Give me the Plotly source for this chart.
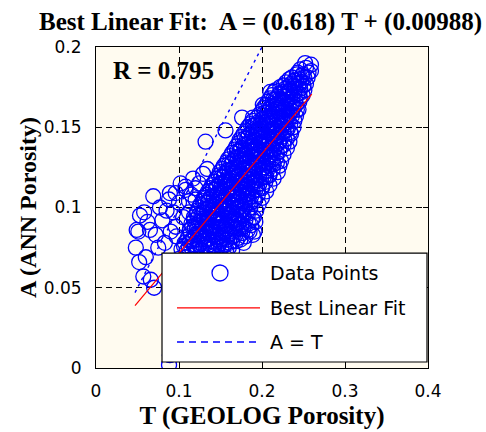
import plotly.graph_objects as go

# ---------------- data ----------------
# dense band of points (row by row, bottom-right cloud)
T_band = [
    0.252, 0.259,
    0.246, 0.253, 0.259,
    0.236, 0.242, 0.248, 0.255,
    0.229, 0.235, 0.241, 0.247, 0.253,
    0.216, 0.222, 0.228, 0.234, 0.240, 0.246, 0.251,
    0.212, 0.219, 0.225, 0.231, 0.237, 0.243, 0.249,
    0.207, 0.213, 0.219, 0.225, 0.231, 0.237, 0.245,
    0.202, 0.208, 0.214, 0.220, 0.226, 0.232, 0.238, 0.244,
    0.197, 0.203, 0.209, 0.215, 0.221, 0.227, 0.233, 0.241,
    0.189, 0.195, 0.201, 0.207, 0.213, 0.219, 0.225, 0.231, 0.239,
    0.183, 0.189, 0.195, 0.201, 0.207, 0.213, 0.219, 0.225, 0.231, 0.238,
    0.178, 0.184, 0.190, 0.196, 0.202, 0.208, 0.214, 0.220, 0.226, 0.235,
    0.173, 0.179, 0.185, 0.191, 0.197, 0.203, 0.209, 0.215, 0.221, 0.227, 0.233,
    0.169, 0.175, 0.181, 0.187, 0.193, 0.199, 0.205, 0.211, 0.217, 0.223, 0.230,
    0.164, 0.170, 0.176, 0.182, 0.188, 0.194, 0.200, 0.206, 0.212, 0.218, 0.226,
    0.159, 0.165, 0.171, 0.177, 0.183, 0.189, 0.195, 0.201, 0.207, 0.213, 0.223,
    0.154, 0.160, 0.166, 0.172, 0.178, 0.184, 0.190, 0.196, 0.202, 0.208, 0.214, 0.221,
    0.149, 0.155, 0.161, 0.167, 0.173, 0.179, 0.185, 0.191, 0.197, 0.203, 0.209, 0.219,
    0.145, 0.151, 0.157, 0.163, 0.169, 0.175, 0.181, 0.187, 0.193, 0.199, 0.205, 0.214,
    0.140, 0.146, 0.152, 0.158, 0.164, 0.170, 0.176, 0.182, 0.188, 0.194, 0.200, 0.209,
    0.135, 0.141, 0.147, 0.153, 0.159, 0.165, 0.171, 0.177, 0.183, 0.189, 0.195, 0.205,
    0.130, 0.136, 0.142, 0.148, 0.154, 0.160, 0.166, 0.172, 0.178, 0.184, 0.190, 0.200,
    0.126, 0.132, 0.138, 0.144, 0.150, 0.156, 0.162, 0.168, 0.174, 0.180, 0.186, 0.196,
    0.122, 0.128, 0.134, 0.140, 0.146, 0.152, 0.158, 0.164, 0.170, 0.176, 0.182, 0.193,
    0.118, 0.124, 0.130, 0.136, 0.142, 0.148, 0.154, 0.160, 0.166, 0.172, 0.178, 0.190,
    0.115, 0.121, 0.127, 0.133, 0.139, 0.145, 0.151, 0.157, 0.163, 0.169, 0.175, 0.184, 0.192,
    0.113, 0.119, 0.125, 0.131, 0.137, 0.143, 0.149, 0.155, 0.161, 0.167, 0.173, 0.183, 0.191,
    0.111, 0.117, 0.123, 0.129, 0.135, 0.141, 0.147, 0.153, 0.159, 0.165, 0.171, 0.180, 0.189,
    0.107, 0.113, 0.119, 0.125, 0.131, 0.137, 0.143, 0.149, 0.155, 0.161, 0.169, 0.178,
    0.103, 0.109, 0.115, 0.121, 0.127, 0.133, 0.139, 0.145, 0.151, 0.157, 0.164,
    0.100, 0.108, 0.116, 0.124, 0.132, 0.140, 0.148, 0.156,
    0.097, 0.105, 0.113, 0.121, 0.130, 0.140, 0.150,
    0.094, 0.102, 0.110, 0.120, 0.130, 0.140,
    0.092, 0.100, 0.110, 0.120,
    0.090, 0.100, 0.110,
    0.090, 0.100,
    0.089,
    0.088,
]
A_band = [
    0.190, 0.189,
    0.186, 0.187, 0.185,
    0.181, 0.183, 0.182, 0.181,
    0.178, 0.177, 0.179, 0.178, 0.177,
    0.173, 0.175, 0.174, 0.173, 0.175, 0.174, 0.173,
    0.170, 0.169, 0.171, 0.170, 0.169, 0.171, 0.170,
    0.166, 0.167, 0.165, 0.166, 0.167, 0.165, 0.166,
    0.162, 0.161, 0.163, 0.162, 0.161, 0.163, 0.162, 0.161,
    0.158, 0.159, 0.157, 0.158, 0.159, 0.157, 0.158, 0.157,
    0.154, 0.153, 0.155, 0.154, 0.153, 0.155, 0.154, 0.153, 0.154,
    0.150, 0.151, 0.149, 0.150, 0.151, 0.149, 0.150, 0.151, 0.149, 0.150,
    0.146, 0.145, 0.147, 0.146, 0.145, 0.147, 0.146, 0.145, 0.147, 0.146,
    0.142, 0.143, 0.141, 0.142, 0.143, 0.141, 0.142, 0.143, 0.141, 0.142, 0.141,
    0.138, 0.137, 0.139, 0.138, 0.137, 0.139, 0.138, 0.137, 0.139, 0.138, 0.137,
    0.134, 0.135, 0.133, 0.134, 0.135, 0.133, 0.134, 0.135, 0.133, 0.134, 0.133,
    0.130, 0.129, 0.131, 0.130, 0.129, 0.131, 0.130, 0.129, 0.131, 0.130, 0.129,
    0.126, 0.127, 0.125, 0.126, 0.127, 0.125, 0.126, 0.127, 0.125, 0.126, 0.127, 0.126,
    0.122, 0.121, 0.123, 0.122, 0.121, 0.123, 0.122, 0.121, 0.123, 0.122, 0.121, 0.122,
    0.118, 0.119, 0.117, 0.118, 0.119, 0.117, 0.118, 0.119, 0.117, 0.118, 0.119, 0.118,
    0.114, 0.113, 0.115, 0.114, 0.113, 0.115, 0.114, 0.113, 0.115, 0.114, 0.113, 0.114,
    0.110, 0.111, 0.109, 0.110, 0.111, 0.109, 0.110, 0.111, 0.109, 0.110, 0.111, 0.110,
    0.106, 0.105, 0.107, 0.106, 0.105, 0.107, 0.106, 0.105, 0.107, 0.106, 0.105, 0.106,
    0.102, 0.103, 0.101, 0.102, 0.103, 0.101, 0.102, 0.103, 0.101, 0.102, 0.103, 0.102,
    0.098, 0.097, 0.099, 0.098, 0.097, 0.099, 0.098, 0.097, 0.099, 0.098, 0.097, 0.098,
    0.094, 0.095, 0.093, 0.094, 0.095, 0.093, 0.094, 0.095, 0.093, 0.094, 0.095, 0.094,
    0.090, 0.089, 0.091, 0.090, 0.089, 0.091, 0.090, 0.089, 0.091, 0.090, 0.089, 0.090, 0.091,
    0.086, 0.087, 0.085, 0.086, 0.087, 0.085, 0.086, 0.087, 0.085, 0.086, 0.087, 0.086, 0.085,
    0.082, 0.081, 0.083, 0.082, 0.081, 0.083, 0.082, 0.081, 0.083, 0.082, 0.081, 0.082, 0.083,
    0.078, 0.079, 0.077, 0.078, 0.079, 0.077, 0.078, 0.079, 0.077, 0.078, 0.079, 0.078,
    0.074, 0.073, 0.075, 0.074, 0.073, 0.075, 0.074, 0.073, 0.075, 0.074, 0.073,
    0.068, 0.069, 0.067, 0.068, 0.069, 0.067, 0.068, 0.069,
    0.060, 0.061, 0.059, 0.060, 0.061, 0.059, 0.060,
    0.050, 0.051, 0.049, 0.050, 0.051, 0.049,
    0.040, 0.041, 0.039, 0.040,
    0.030, 0.031, 0.029,
    0.018, 0.019,
    0.008,
    0.002,
]
# interior points between the rows above (the band is packed solid)
T_inner = [
    0.243, 0.249, 0.256,
    0.233, 0.239, 0.245, 0.251,
    0.226, 0.232, 0.238, 0.244, 0.250,
    0.215, 0.221, 0.227, 0.233, 0.239, 0.245,
    0.210, 0.216, 0.222, 0.228, 0.234, 0.240, 0.246,
    0.205, 0.211, 0.217, 0.223, 0.229, 0.235, 0.241,
    0.200, 0.206, 0.212, 0.218, 0.224, 0.230, 0.236, 0.242,
    0.194, 0.200, 0.206, 0.212, 0.218, 0.224, 0.230, 0.236,
    0.186, 0.192, 0.198, 0.204, 0.210, 0.216, 0.222, 0.228, 0.234,
    0.181, 0.187, 0.193, 0.199, 0.205, 0.211, 0.217, 0.223, 0.229, 0.234,
    0.176, 0.182, 0.188, 0.194, 0.200, 0.206, 0.212, 0.218, 0.224, 0.230,
    0.172, 0.178, 0.184, 0.190, 0.196, 0.202, 0.208, 0.214, 0.220, 0.226,
    0.167, 0.173, 0.179, 0.185, 0.191, 0.197, 0.203, 0.209, 0.215, 0.221,
    0.162, 0.168, 0.174, 0.180, 0.186, 0.192, 0.198, 0.204, 0.210, 0.217,
    0.157, 0.163, 0.169, 0.175, 0.181, 0.187, 0.193, 0.199, 0.205, 0.211, 0.218,
    0.152, 0.158, 0.164, 0.170, 0.176, 0.182, 0.188, 0.194, 0.200, 0.206, 0.213,
    0.148, 0.154, 0.160, 0.166, 0.172, 0.178, 0.184, 0.190, 0.196, 0.202, 0.209,
    0.143, 0.149, 0.155, 0.161, 0.167, 0.173, 0.179, 0.185, 0.191, 0.197, 0.204,
    0.138, 0.144, 0.150, 0.156, 0.162, 0.168, 0.174, 0.180, 0.186, 0.192, 0.200,
    0.133, 0.139, 0.145, 0.151, 0.157, 0.163, 0.169, 0.175, 0.181, 0.187, 0.195,
    0.129, 0.135, 0.141, 0.147, 0.153, 0.159, 0.165, 0.171, 0.177, 0.183, 0.191,
    0.124, 0.130, 0.136, 0.142, 0.148, 0.154, 0.160, 0.166, 0.172, 0.178, 0.186,
    0.121, 0.127, 0.133, 0.139, 0.145, 0.151, 0.157, 0.163, 0.169, 0.175, 0.183,
    0.118, 0.124, 0.130, 0.136, 0.142, 0.148, 0.154, 0.160, 0.166, 0.172, 0.180, 0.188,
    0.116, 0.122, 0.128, 0.134, 0.140, 0.146, 0.152, 0.158, 0.164, 0.170, 0.178, 0.187,
    0.114, 0.120, 0.126, 0.132, 0.138, 0.144, 0.150, 0.156, 0.162, 0.168, 0.176, 0.185,
    0.110, 0.116, 0.122, 0.128, 0.134, 0.140, 0.146, 0.152, 0.158, 0.164, 0.174,
    0.106, 0.112, 0.118, 0.124, 0.130, 0.136, 0.142, 0.148, 0.154, 0.160,
]
A_inner = [
    0.184, 0.183, 0.184,
    0.180, 0.179, 0.180, 0.181,
    0.176, 0.175, 0.176, 0.177, 0.176,
    0.172, 0.171, 0.172, 0.173, 0.172, 0.171,
    0.168, 0.167, 0.168, 0.169, 0.168, 0.167, 0.168,
    0.164, 0.163, 0.164, 0.165, 0.164, 0.163, 0.164,
    0.160, 0.159, 0.160, 0.161, 0.160, 0.159, 0.160, 0.161,
    0.156, 0.155, 0.156, 0.157, 0.156, 0.155, 0.156, 0.157,
    0.152, 0.151, 0.152, 0.153, 0.152, 0.151, 0.152, 0.153, 0.152,
    0.148, 0.147, 0.148, 0.149, 0.148, 0.147, 0.148, 0.149, 0.148, 0.147,
    0.144, 0.143, 0.144, 0.145, 0.144, 0.143, 0.144, 0.145, 0.144, 0.143,
    0.140, 0.139, 0.140, 0.141, 0.140, 0.139, 0.140, 0.141, 0.140, 0.139,
    0.136, 0.135, 0.136, 0.137, 0.136, 0.135, 0.136, 0.137, 0.136, 0.135,
    0.132, 0.131, 0.132, 0.133, 0.132, 0.131, 0.132, 0.133, 0.132, 0.131,
    0.128, 0.127, 0.128, 0.129, 0.128, 0.127, 0.128, 0.129, 0.128, 0.127, 0.128,
    0.124, 0.123, 0.124, 0.125, 0.124, 0.123, 0.124, 0.125, 0.124, 0.123, 0.124,
    0.120, 0.119, 0.120, 0.121, 0.120, 0.119, 0.120, 0.121, 0.120, 0.119, 0.120,
    0.116, 0.115, 0.116, 0.117, 0.116, 0.115, 0.116, 0.117, 0.116, 0.115, 0.116,
    0.112, 0.111, 0.112, 0.113, 0.112, 0.111, 0.112, 0.113, 0.112, 0.111, 0.112,
    0.108, 0.107, 0.108, 0.109, 0.108, 0.107, 0.108, 0.109, 0.108, 0.107, 0.108,
    0.104, 0.103, 0.104, 0.105, 0.104, 0.103, 0.104, 0.105, 0.104, 0.103, 0.104,
    0.100, 0.099, 0.100, 0.101, 0.100, 0.099, 0.100, 0.101, 0.100, 0.099, 0.100,
    0.096, 0.095, 0.096, 0.097, 0.096, 0.095, 0.096, 0.097, 0.096, 0.095, 0.096,
    0.092, 0.091, 0.092, 0.093, 0.092, 0.091, 0.092, 0.093, 0.092, 0.091, 0.092, 0.093,
    0.088, 0.087, 0.088, 0.089, 0.088, 0.087, 0.088, 0.089, 0.088, 0.087, 0.088, 0.089,
    0.084, 0.083, 0.084, 0.085, 0.084, 0.083, 0.084, 0.085, 0.084, 0.083, 0.084, 0.085,
    0.080, 0.079, 0.080, 0.081, 0.080, 0.079, 0.080, 0.081, 0.080, 0.079, 0.080,
    0.076, 0.075, 0.076, 0.077, 0.076, 0.075, 0.076, 0.077, 0.076, 0.075,
]
# scattered points above / left of the band
T_sparse = [0.132, 0.156, 0.176, 0.189, 0.201, 0.210, 0.129, 0.117, 0.108, 0.134,
            0.089, 0.069, 0.058, 0.051, 0.072, 0.048, 0.060, 0.052, 0.057, 0.070,
            0.096, 0.088, 0.108, 0.120, 0.105, 0.085, 0.065, 0.097, 0.053, 0.049,
            0.090, 0.096, 0.112, 0.066, 0.120, 0.077, 0.080, 0.093, 0.100, 0.062,
            0.075, 0.083, 0.112, 0.102, 0.115, 0.124]
A_sparse = [0.141, 0.148, 0.156, 0.156, 0.164, 0.172, 0.121, 0.118, 0.113, 0.124,
            0.109, 0.107, 0.097, 0.085, 0.083, 0.075, 0.069, 0.066, 0.057, 0.050,
            0.088, 0.105, 0.111, 0.105, 0.094, 0.098, 0.086, 0.082, 0.095, 0.086,
            0.085, 0.109, 0.097, 0.055, 0.112, 0.100, 0.092, 0.097, 0.103, 0.091,
            0.075, 0.078, 0.104, 0.115, 0.108, 0.115]

# best linear fit A = 0.618 T + 0.00988, drawn over the T range of the data
T_fit = [0.047, 0.260]
A_fit = [0.0389, 0.1706]
# A = T reference line over the same range
T_eq = [0.047, 0.260]
A_eq = [0.047, 0.260]

x_ticks = [0, 0.1, 0.2, 0.3, 0.4]
x_tick_text = ["0", "0.1", "0.2", "0.3", "0.4"]
y_ticks = [0, 0.05, 0.1, 0.15, 0.2]
y_tick_text = ["0", "0.05", "0.1", "0.15", "0.2"]

title_text = "Best Linear Fit:\u00a0 A = (0.618) T + (0.00988)"
r_text = "R = 0.795"
legend_labels = ["Data Points", "Best Linear Fit", "A = T"]

# ---------------- figure ----------------
BLUE = "#0000ff"
RED = "#ff0000"
SERIF = "Liberation Serif"
SANS = "DejaVu Sans"

fig = go.Figure()
fig.add_trace(go.Scatter(
    x=T_band + T_inner + T_sparse, y=A_band + A_inner + A_sparse, mode="markers",
    name=legend_labels[0],
    marker=dict(symbol="circle-open", size=15, color=BLUE, line=dict(color=BLUE, width=1.3)),
))
fig.add_trace(go.Scatter(
    x=T_fit, y=A_fit, mode="lines", name=legend_labels[1],
    line=dict(color=RED, width=1.2),
))
fig.add_trace(go.Scatter(
    x=T_eq, y=A_eq, mode="lines", name=legend_labels[2],
    line=dict(color=BLUE, width=1.4, dash="3px,4px"),
))

axis_common = dict(
    showline=True, linecolor="black", linewidth=1, mirror="ticks",
    ticks="inside", ticklen=5, tickwidth=1, tickcolor="black",
    showgrid=True, gridcolor="black", gridwidth=1, griddash="6px,4px",
    zeroline=False, automargin=False,
    tickfont=dict(family=SANS, size=17, color="black"),
)

fig.update_layout(
    template="none",
    width=486, height=432,
    margin=dict(l=96, r=58, t=47, b=64),
    paper_bgcolor="white",
    plot_bgcolor="#fffbf0",
    showlegend=False,
    title=dict(text="<b>" + title_text + "</b>", x=0.536, xanchor="center",
               y=1 - 21 / 432, yanchor="middle", yref="container",
               font=dict(family=SERIF, size=25, color="black")),
    xaxis=dict(range=[0, 0.4], tickvals=x_ticks, ticktext=x_tick_text,
               ticklabelstandoff=8,
               title=dict(text="<b>T (GEOLOG Porosity)</b>", standoff=6,
                          font=dict(family=SERIF, size=25, color="black")),
               **axis_common),
    yaxis=dict(range=[0, 0.2], tickvals=y_ticks, ticktext=y_tick_text,
               ticklabelstandoff=10,
               title=dict(text="<b>A (ANN Porosity)</b>", standoff=0,
                          font=dict(family=SERIF, size=24, color="black")),
               **axis_common),
)

# R annotation
fig.add_annotation(text="<b>" + r_text + "</b>", xref="paper", yref="paper",
                   x=0.045, y=0.928, xanchor="left", yanchor="middle", showarrow=False,
                   font=dict(family=SERIF, size=25, color="black"))

# legend box (MATLAB style) drawn in paper coordinates
lx0, lx1, ly0, ly1 = 0.1988, 0.997, 0.0187, 0.358
fig.add_shape(type="rect", xref="paper", yref="paper", x0=lx0, x1=lx1, y0=ly0, y1=ly1,
              fillcolor="white", line=dict(color="black", width=1.2), layer="above")
row_y = [0.296, 0.187, 0.081]
sym_x0, sym_x1, sym_xc, text_x = 0.244, 0.494, 0.3735, 0.518
fig.add_shape(type="circle", xref="paper", yref="paper", xsizemode="pixel", ysizemode="pixel",
              xanchor=sym_xc, yanchor=row_y[0], x0=-8, x1=8, y0=-8, y1=8,
              line=dict(color=BLUE, width=1.3), layer="above")
fig.add_shape(type="line", xref="paper", yref="paper", x0=sym_x0, x1=sym_x1,
              y0=row_y[1], y1=row_y[1], line=dict(color=RED, width=1.2), layer="above")
fig.add_shape(type="line", xref="paper", yref="paper", x0=sym_x0, x1=sym_x1,
              y0=row_y[2], y1=row_y[2], line=dict(color=BLUE, width=1.4, dash="7px,5px"),
              layer="above")
for lab, yy in zip(legend_labels, row_y):
    fig.add_annotation(text=lab, xref="paper", yref="paper", x=text_x, y=yy,
                       xanchor="left", yanchor="middle", showarrow=False,
                       font=dict(family=SANS, size=19, color="black"))

fig.write_html("out.html")
